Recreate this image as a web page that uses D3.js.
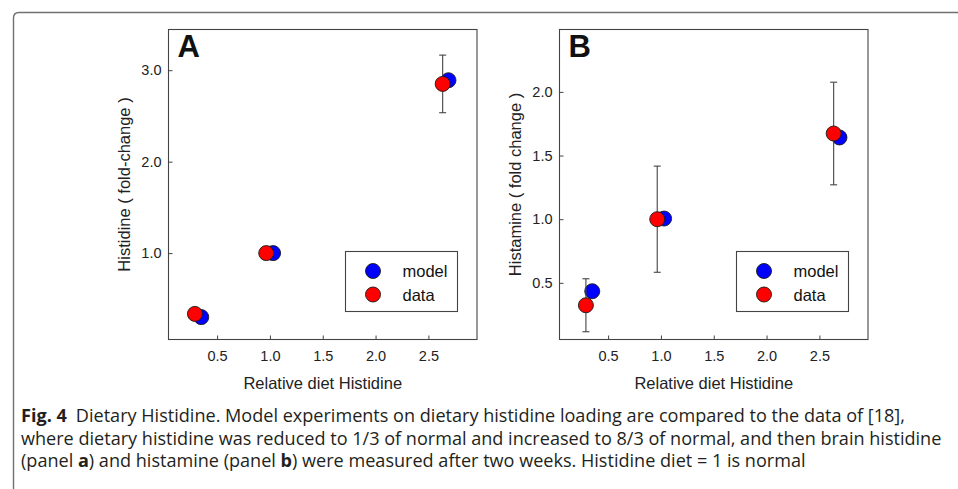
<!DOCTYPE html>
<html>
<head>
<meta charset="utf-8">
<script src="https://cdn.jsdelivr.net/npm/d3@7"></script>
<style>
	body { margin: 0; background: #fff; }
	svg { display: block; font-family: "Liberation Sans", Arial, sans-serif; }
</style>
</head>
<body>
<script>

// values
var diet_model = [0.35, 1.03, 2.69];
var diet_data = [0.29, 0.965, 2.635];

var histidine_model = [0.30, 1.0, 2.89];
var histidine_data = [0.335, 1.0, 2.85];
var histidine_err = [0, 0, 0.315];

var histamine_model = [0.434, 1.005, 1.642];
var histamine_data = [0.324, 1.0, 1.673];
var histamine_err = [0.208, 0.417, 0.403];

var xTicks = [0.5, 1.0, 1.5, 2.0, 2.5];
var yTicksA = [1.0, 2.0, 3.0];
var yTicksB = [0.5, 1.0, 1.5, 2.0];

var legendLabels = ["model", "data"];
var legendColors = ["#0000ff", "#ff0000"];

var caption = [
	[["Fig. 4", true], ["\u2002Dietary Histidine. Model experiments on dietary histidine loading are compared to the data of [18],", false]],
	[["where dietary histidine was reduced to 1/3 of normal and increased to 8/3 of normal, and then brain histidine", false]],
	[["(panel ", false], ["a", true], [") and histamine (panel ", false], ["b", true], [") were measured after two weeks. Histidine diet = 1 is normal", false]]
];

var svg = d3.select("body").append("svg")
	.attr("width", 958)
	.attr("height", 489);

// page frame (top + left edge, rounded corner)
svg.append("path")
	.attr("d", "M13.5,489 V18 Q13.5,12.5 19,12.5 H958")
	.attr("fill", "none")
	.attr("stroke", "#707070")
	.attr("stroke-width", 1.4);

function panel(o) {
	var w = 308.5, h = 310;
	var x = d3.scaleLinear().domain([0.04, 2.96]).range([o.left, o.left + w]);
	var y = d3.scaleLinear().domain(o.yDomain).range([o.top + h, o.top]);

	var g = svg.append("g");

	var xAxis = d3.axisBottom(x)
		.tickValues(xTicks)
		.tickFormat(d3.format(".1f"))
		.tickSizeInner(-4)
		.tickSizeOuter(0)
		.tickPadding(11.5);

	var yAxis = d3.axisLeft(y)
		.tickValues(o.yTicks)
		.tickFormat(d3.format(".1f"))
		.tickSizeInner(-4)
		.tickSizeOuter(0)
		.tickPadding(7);

	var gx = g.append("g")
		.attr("transform", "translate(0," + (o.top + h) + ")")
		.call(xAxis);
	var gy = g.append("g")
		.attr("transform", "translate(" + o.left + ",0)")
		.call(yAxis);

	[gx, gy].forEach(function(a) {
		a.select(".domain").remove();
		a.selectAll("line").attr("stroke", "#444");
		a.selectAll("text")
			.attr("fill", "#222")
			.style("font-size", "14.5px");
		a.attr("font-family", null).attr("font-size", null);
	});

	g.append("rect")
		.attr("x", o.left)
		.attr("y", o.top)
		.attr("width", w)
		.attr("height", h)
		.attr("fill", "none")
		.attr("stroke", "#444")
		.attr("stroke-width", 1.1);

	// axis titles
	g.append("text")
		.attr("x", o.left + w / 2)
		.attr("y", 389)
		.attr("text-anchor", "middle")
		.attr("fill", "#222")
		.style("font-size", "16.5px")
		.text("Relative diet Histidine");

	g.append("text")
		.attr("transform", "translate(" + (o.left - 44) + "," + (o.top + h / 2) + ") rotate(-90)")
		.attr("text-anchor", "middle")
		.attr("dy", "0.35em")
		.attr("fill", "#222")
		.style("font-size", "16.5px")
		.text(o.yTitle);

	g.append("text")
		.attr("x", o.left + 9)
		.attr("y", o.top + 27)
		.attr("fill", "#111")
		.style("font-size", "31px")
		.style("font-weight", "bold")
		.text(o.letter);

	// model points
	g.selectAll(".model")
		.data(diet_model).enter()
		.append("circle")
		.attr("cx", function(d) { return x(d); })
		.attr("cy", function(d, i) { return y(o.model[i]); })
		.attr("r", 7.5)
		.attr("fill", legendColors[0])
		.attr("stroke", "#1a1a1a")
		.attr("stroke-width", 0.9);

	// error bars on data
	var eb = g.selectAll(".err")
		.data(diet_data.filter(function(d, i) { return o.err[i] > 0; })
			.map(function(d) { var i = diet_data.indexOf(d); return {x: d, v: o.data[i], e: o.err[i]}; }))
		.enter().append("g")
		.attr("stroke", "#444")
		.attr("stroke-width", 1.1);
	eb.append("line")
		.attr("x1", function(d) { return x(d.x); })
		.attr("x2", function(d) { return x(d.x); })
		.attr("y1", function(d) { return y(d.v - d.e); })
		.attr("y2", function(d) { return y(d.v + d.e); });
	[-1, 1].forEach(function(s) {
		eb.append("line")
			.attr("x1", function(d) { return x(d.x) - 3.5; })
			.attr("x2", function(d) { return x(d.x) + 3.5; })
			.attr("y1", function(d) { return y(d.v + s * d.e); })
			.attr("y2", function(d) { return y(d.v + s * d.e); });
	});

	g.selectAll(".data")
		.data(diet_data).enter()
		.append("circle")
		.attr("cx", function(d) { return x(d); })
		.attr("cy", function(d, i) { return y(o.data[i]); })
		.attr("r", 7.5)
		.attr("fill", legendColors[1])
		.attr("stroke", "#1a1a1a")
		.attr("stroke-width", 0.9);

	// legend
	var lx = o.left + 177, ly = o.top + 222;
	g.append("rect")
		.attr("x", lx)
		.attr("y", ly)
		.attr("width", 112)
		.attr("height", 60)
		.attr("fill", "#fff")
		.attr("stroke", "#444")
		.attr("stroke-width", 1.1);

	var leg = g.selectAll(".legend")
		.data(legendLabels).enter()
		.append("g");
	leg.append("circle")
		.attr("cx", lx + 27.5)
		.attr("cy", function(d, i) { return ly + 19.5 + 23.5 * i; })
		.attr("r", 7.5)
		.attr("fill", function(d, i) { return legendColors[i]; })
		.attr("stroke", "#1a1a1a")
		.attr("stroke-width", 0.9);
	leg.append("text")
		.attr("x", lx + 57)
		.attr("y", function(d, i) { return ly + 25.5 + 23.5 * i; })
		.attr("fill", "#111")
		.style("font-size", "16.5px")
		.text(function(d) { return d; });
}

panel({left: 168.5, top: 29.5, yDomain: [0.055, 3.445], yTicks: yTicksA, letter: "A",
	yTitle: "Histidine ( fold-change )", model: histidine_model, data: histidine_data, err: histidine_err});
panel({left: 559.5, top: 29.5, yDomain: [0.055, 2.49], yTicks: yTicksB, letter: "B",
	yTitle: "Histamine ( fold change )", model: histamine_model, data: histamine_data, err: histamine_err});

// caption: one horizontal squeeze for all lines, set by the widest line
var capBase = [422, 444.5, 467];
var capLines = caption.map(function(line, k) {
	var t = svg.append("text")
		.attr("fill", "#231f20")
		.style("font-family", "'Open Sans', 'Liberation Sans', sans-serif")
		.style("font-size", "17.5px");
	line.forEach(function(p) {
		t.append("tspan")
			.style("font-weight", p[1] ? "bold" : "normal")
			.text(p[0]);
	});
	return t;
});
var sx = (942 - 21) / capLines[1].node().getComputedTextLength();
capLines.forEach(function(t, k) {
	t.attr("transform", "translate(21," + capBase[k] + ") scale(" + sx + ",1)");
});

</script>
</body>
</html>
